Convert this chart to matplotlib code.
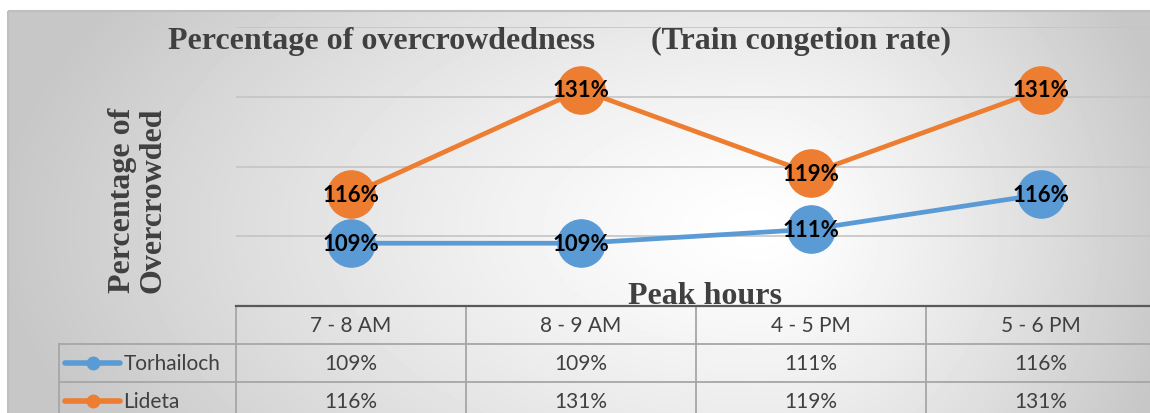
import matplotlib
matplotlib.use("Agg")
import matplotlib.pyplot as plt
from matplotlib.patches import Rectangle
import numpy as np

W, H = 1150, 414

# chart data
hours = ["7 - 8 AM", "8 - 9 AM", "4 - 5 PM", "5 - 6 PM"]
torhailoch = [109, 109, 111, 116]
lideta = [116, 131, 119, 131]
series_names = ["Torhailoch", "Lideta"]
series_colors = ["#5B9BD5", "#ED7D31"]
gridlines = [110, 120, 130, 140]

title = "Percentage of overcrowdedness       (Train congetion rate)"
serif = "Liberation Serif"
sans = "Lato"
grey_text = "#404040"


def box(x0, y0, x1, y1):
    # pixel box (top-left origin) -> figure fraction
    return [x0 / W, 1 - y1 / H, (x1 - x0) / W, (y1 - y0) / H]


fig = plt.figure(figsize=(W / 100, H / 100), dpi=100)

# background with a soft radial gradient
bg = fig.add_axes([0, 0, 1, 1])
bg.set_xlim(0, W)
bg.set_ylim(H, 0)
bg.axis("off")
yy, xx = np.mgrid[12:H, 8:W] + 0.5
cx, cy = 760, 230
dx = np.where(xx < cx, (xx - cx) / 760, (xx - cx) / 420)
dy = (yy - cy) / 420
d = np.clip(np.sqrt(dx ** 2 + dy ** 2), 0, 1)
shade = 1 - 0.22 * d ** 1.3
bg.imshow(shade, cmap="gray", vmin=0, vmax=1, extent=(8, W, H, 12),
          interpolation="bilinear", aspect="auto")
bg.add_patch(Rectangle((8, 12), W, H, fill=False, ec="#bfbfbf", lw=1.5))

# main line chart
ax = fig.add_axes(box(236, 28, 1156, 307))
ax.patch.set_alpha(0)
ax.set_xlim(-0.5, 3.5)
ax.set_ylim(100, 140)
ax.axis("off")
for g in gridlines:
    ax.axhline(g, color="#c4c4c4", lw=1.2, zorder=1)

x = np.arange(len(hours))
for vals, color in zip([torhailoch, lideta], series_colors):
    ax.plot(x, vals, color=color, lw=3.4, marker="o", ms=34, zorder=3,
            clip_on=False)
    for i, v in enumerate(vals):
        ax.text(i, v, f"{v}%", ha="center", va="center", fontsize=16,
                fontweight="bold", family=sans, color="black", zorder=4)

# data table under the chart
tb = fig.add_axes(box(59, 307, 1156, 421))
tb.patch.set_alpha(0)
left = -0.5 - (236 - 59) / 230
tb.set_xlim(left, 3.5)
tb.set_ylim(3, 0)
tb.axis("off")

line_kw = dict(color="#a6a6a6", lw=1.3, clip_on=False)
for xv in [-0.5, 0.5, 1.5, 2.5, 3.5]:
    tb.plot([xv, xv], [0, 3], **line_kw)
tb.plot([left, left], [1, 3], **line_kw)
for yv in [1, 2, 3]:
    tb.plot([left, 3.5], [yv, yv], **line_kw)
tb.plot([-0.5, 3.5], [0, 0], color="#595959", lw=1.6, clip_on=False)

for i, h in enumerate(hours):
    tb.text(i, 0.5, h, ha="center", va="center", fontsize=15, family=sans,
            color=grey_text)
for r, (name, vals, color) in enumerate(zip(series_names, [torhailoch, lideta],
                                            series_colors)):
    row = r + 1.5
    tb.plot([left + 0.026, left + 0.265], [row, row], color=color, lw=4,
            solid_capstyle="round")
    tb.plot(left + 0.148, row, "o", color=color, ms=9)
    tb.text(left + 0.28, row, name, ha="left", va="center", fontsize=15,
            family=sans, color=grey_text)
    for i, v in enumerate(vals):
        tb.text(i, row, f"{v}%", ha="center", va="center", fontsize=15,
                family=sans, color=grey_text)

# titles
fig.text(560 / W, 1 - 49 / H, title, ha="center", va="baseline", fontsize=23,
         fontweight="bold", family=serif, color=grey_text)
fig.text(138 / W, 1 - 200 / H, "Percentage of\nOvercrowded", rotation=90,
         ha="center", va="center", multialignment="center", linespacing=1.05,
         fontsize=23, fontweight="bold", family=serif, color=grey_text)
fig.text(705 / W, 1 - 304 / H, "Peak hours", ha="center", va="baseline",
         fontsize=23, fontweight="bold", family=serif, color=grey_text)

fig.savefig("out.png", dpi=100)
